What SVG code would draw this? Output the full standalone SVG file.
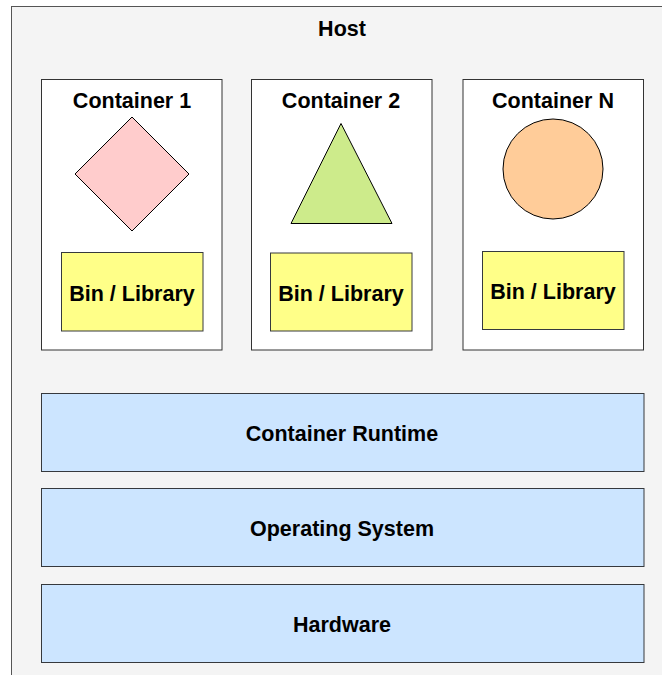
<svg xmlns="http://www.w3.org/2000/svg" width="662" height="675" viewBox="0 0 662 675">
<style>
text{font-family:"Liberation Sans",Arial,sans-serif;font-weight:bold;fill:#000;text-anchor:middle;dominant-baseline:central}
.t{font-size:21.5px}
.c{fill:#fff;stroke:#333;stroke-width:1}
.bin{fill:#ffff88;stroke:#36393d;stroke-width:1}
.layer{fill:#cce5ff;stroke:#36393d;stroke-width:1}
.s{stroke:#000;stroke-width:1}
</style>
<g id="host"><rect x="11.5" y="6.5" width="680" height="700" fill="#f4f4f4" stroke="#555" stroke-width="1"/><text x="342" y="29" class="t">Host</text></g>
<g id="container1"><rect class="c" x="41.5" y="79.5" width="180.5" height="270.5"/><text x="132" y="101" class="t">Container 1</text>
<polygon points="132,117 189,174 132,231 75,174" fill="#ffcccc" class="s"/></g>
<g id="bin1"><rect class="bin" x="61.5" y="252.5" width="141.5" height="78.5"/><text x="132" y="294" class="t">Bin / Library</text></g>
<g id="container2"><rect class="c" x="251.5" y="79.5" width="180.5" height="270.5"/><text x="341" y="101" class="t">Container 2</text>
<polygon points="341,123.5 392,223.5 291,223.5" fill="#cdeb8b" class="s"/></g>
<g id="bin2"><rect class="bin" x="270.5" y="253" width="141.5" height="78"/><text x="341" y="294" class="t">Bin / Library</text></g>
<g id="containerN"><rect class="c" x="463" y="79.5" width="180.5" height="270.5"/><text x="553" y="101" class="t">Container N</text>
<circle cx="553" cy="169" r="50" fill="#ffcc99" class="s"/></g>
<g id="binN"><rect class="bin" x="482.5" y="251.5" width="141.5" height="78"/><text x="553" y="292" class="t">Bin / Library</text></g>
<g id="runtime"><rect class="layer" x="41.5" y="393.5" width="602.5" height="78"/><text x="342" y="434" class="t">Container Runtime</text></g>
<g id="os"><rect class="layer" x="41.5" y="488.5" width="602.5" height="78"/><text x="342" y="529" class="t">Operating System</text></g>
<g id="hardware"><rect class="layer" x="41.5" y="584.5" width="602.5" height="78"/><text x="342" y="625" class="t">Hardware</text></g>
<g id="connectors"></g>
</svg>
